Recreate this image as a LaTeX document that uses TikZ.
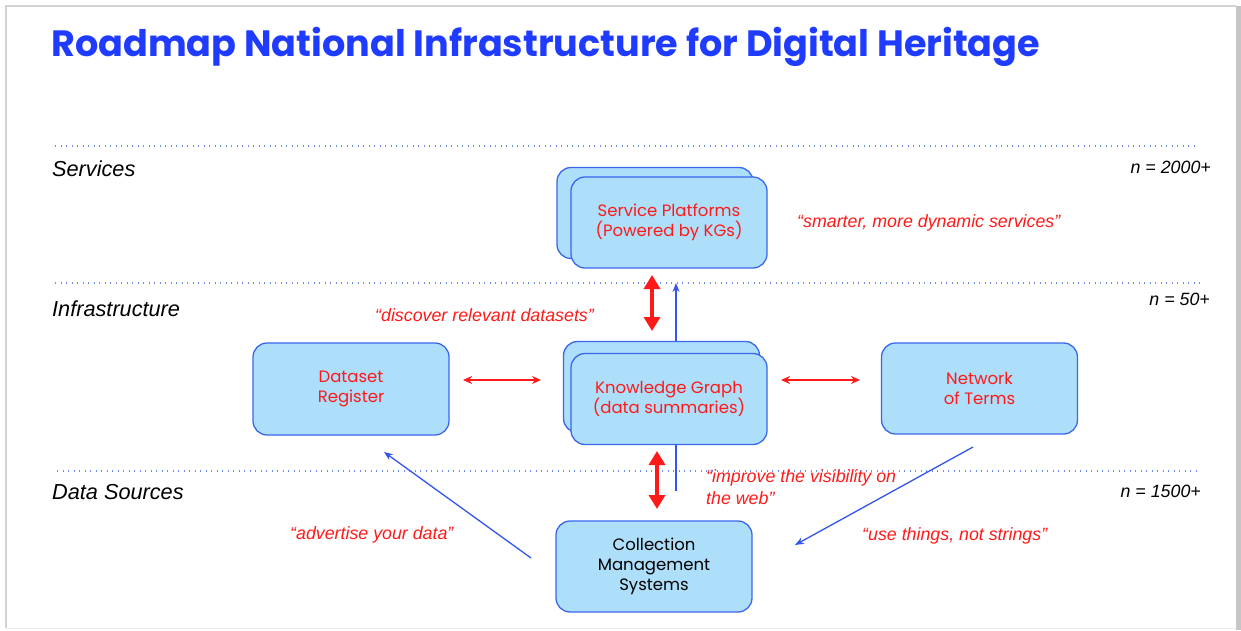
\documentclass[tikz,border=0pt]{standalone}
\usepackage{fontspec}
\setmainfont{Liberation Sans}
\newfontfamily\pop{Poppins}
\usetikzlibrary{arrows.meta}
\definecolor{ttlblue}{HTML}{1F3BFF}
\definecolor{bfill}{HTML}{ADDEFA}
\definecolor{bdraw}{HTML}{3B66EE}
\definecolor{dotblue}{HTML}{6E8CF0}
\definecolor{qred}{HTML}{FF1A1A}
\definecolor{arrblue}{HTML}{3355EE}
\tikzset{
  box/.style={draw=bdraw, fill=bfill, rounded corners=14pt, line width=1.3pt,
    minimum width=196pt, minimum height=91pt, align=center, text=qred,
    font=\pop\fontsize{16.5}{20}\selectfont, inner sep=0pt},
  layer/.style={font=\itshape\fontsize{21.7}{26}\selectfont, anchor=west, inner sep=0pt},
  cnt/.style={font=\itshape\fontsize{17.8}{22}\selectfont, anchor=east, inner sep=0pt},
  quote/.style={font=\itshape\fontsize{17.8}{22.5}\selectfont, text=qred, inner sep=0pt},
  sep/.style={dotblue, line width=1.1pt, dash pattern=on 1.2pt off 4.3pt},
  thinred/.style={qred, line width=1.8pt, {Stealth[length=9pt,width=8pt]}-{Stealth[length=9pt,width=8pt]}},
  thickred/.style={qred, line width=3.6pt, {Triangle[length=14pt,width=16pt]}-{Triangle[length=14pt,width=16pt]}},
  thinblue/.style={arrblue, line width=1.3pt, -{Stealth[length=9pt,width=7pt]}}
}
\begin{document}
\begin{tikzpicture}[x=1pt,y=-1pt]
\useasboundingbox (0,0) rectangle (1241,630);
% frame
\fill[gray!45] (1236,6) rectangle (1241,630);
\draw[gray!35, line width=1.2pt] (6,628) -- (6,6) -- (1236,6);
\draw[gray!15, line width=1pt] (6,628.5) -- (1236,628.5);
% title
\node[anchor=base west, inner sep=0pt, text=ttlblue, font=\pop\bfseries\fontsize{36.6}{42}\selectfont] (title) at (51,56) {Roadmap National Infrastructure for Digital Heritage};
% separators
\coordinate (s1a) at (55,146); \coordinate (s1b) at (1198,146);
\coordinate (s2a) at (55,283); \coordinate (s2b) at (1200,283);
\coordinate (s3a) at (57,471); \coordinate (s3b) at (1197,471);
\draw[sep] (s1a) -- (s1b);
\draw[sep] (s2a) -- (s2b);
\draw[sep] (s3a) -- (s3b);
% layer labels
\node[layer] (lserv) at (52,168.5) {Services};
\node[layer] (linfra) at (52,308.5) {Infrastructure};
\node[layer] (ldata) at (52,492.5) {Data Sources};
\node[cnt] (n1) at (1211,167) {n = 2000+};
\node[cnt] (n2) at (1210,299) {n = 50+};
\node[cnt] (n3) at (1201,491) {n = 1500+};
% blue arrow behind KG
\coordinate (kgup) at (676,283);
\coordinate (kgdn) at (676,491);
\draw[thinblue] (kgdn) -- (kgup);
% boxes
\node[box] (spback) at (655,213) {};
\node[box] (sp) at (669,222.5) {Service Platforms\\(Powered by KGs)};
\node[box] (kgback) at (661.5,387) {};
\node[box] (kg) at (669,399) {Knowledge Graph\\(data summaries)};
\node[box, minimum height=92pt] (dr) at (351,389) {Dataset\\Register};
\node[box] (nt) at (979.5,388.5) {Network\\of Terms};
\node[box, text=black] (cms) at (654,566.5) {\raisebox{-2pt}{\parbox{180pt}{\centering Collection\\Management\\Systems}}};
% red arrows
\coordinate (a1) at (463,380); \coordinate (a2) at (541,380);
\draw[thinred] (a1) -- (a2);
\coordinate (b1) at (781,380); \coordinate (b2) at (860,380);
\draw[thinred] (b1) -- (b2);
\coordinate (c1) at (652,275); \coordinate (c2) at (652,331);
\draw[thickred] (c1) -- (c2);
\coordinate (d1) at (657,451); \coordinate (d2) at (657,509);
\draw[thickred] (d1) -- (d2);
% blue diagonal arrows
\coordinate (e1) at (531,558); \coordinate (e2) at (384,452);
\draw[thinblue] (e1) -- (e2);
\coordinate (f1) at (973,447); \coordinate (f2) at (795,545);
\draw[thinblue] (f1) -- (f2);
% quotes
\node[quote, anchor=west] (q1) at (797,223) {“smarter, more dynamic services”};
\node[quote, anchor=west] (q2) at (375,315) {“discover relevant datasets”};
\node[quote, anchor=north west, align=left] (q3) at (706,469) {“improve the visibility on\\the web”};
\node[quote, anchor=west] (q4) at (290,535) {“advertise your data”};
\node[quote, anchor=west] (q5) at (862,536) {“use things, not strings”};
\end{tikzpicture}
\end{document}
